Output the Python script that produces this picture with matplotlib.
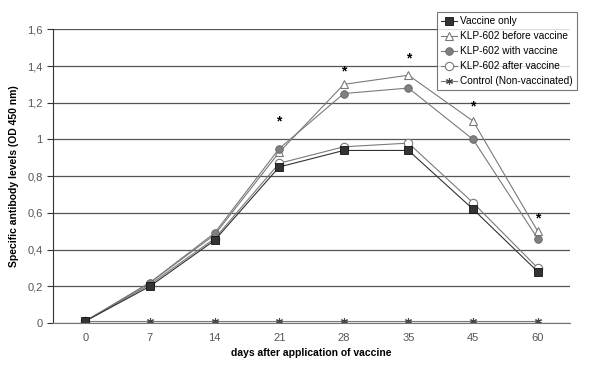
import numpy as np
import matplotlib
matplotlib.use('Agg')
import matplotlib.pyplot as plt
from matplotlib.ticker import FuncFormatter

plt.rcParams['font.family'] = ['Liberation Sans', 'DejaVu Sans']

# data
days = ['0', '7', '14', '21', '28', '35', '45', '60']
vaccine_only = [0.01, 0.20, 0.45, 0.85, 0.94, 0.94, 0.62, 0.28]
klp_before = [0.01, 0.22, 0.48, 0.93, 1.30, 1.35, 1.10, 0.50]
klp_with = [0.01, 0.22, 0.49, 0.95, 1.25, 1.28, 1.00, 0.46]
klp_after = [0.01, 0.21, 0.46, 0.87, 0.96, 0.98, 0.655, 0.30]
control = [0.01, 0.01, 0.01, 0.01, 0.01, 0.01, 0.01, 0.01]
# significance stars (day index, level)
star_idx = [3, 4, 5, 6, 7]
star_y = [1.10, 1.37, 1.44, 1.18, 0.57]

x = np.arange(len(days))

fig = plt.figure(figsize=(6, 3.67), dpi=100)
ax = fig.add_axes([53/600, 1 - 323/367, (570-53)/600, (323-29.3)/367])

ax.set_ylim(0, 1.6)
ax.set_xlim(-0.5, len(days) - 0.5)
ax.set_yticks(np.arange(0, 1.61, 0.2))
ax.yaxis.set_major_formatter(FuncFormatter(lambda v, p: ('%g' % round(v, 1)).replace('.', ',')))
ax.set_xticks(x)
ax.set_xticklabels(days)
ax.grid(axis='y', color='#555555', lw=0.9)
ax.set_axisbelow(True)
for s in ['top', 'right']:
    ax.spines[s].set_visible(False)
ax.spines['left'].set_color('#333333')
ax.spines['bottom'].set_color('#777777')
ax.tick_params(axis='x', length=0, pad=7, labelsize=8, labelcolor='#555555')
ax.tick_params(axis='y', length=4, color='#333333', labelsize=8, labelcolor='#555555')

gray = '#7a7a7a'
ax.plot(x, control, color=gray, lw=0.8, marker=(6, 2, 0), ms=5, mec='#444444', mew=0.8,
        label='Control (Non-vaccinated)')
ax.plot(x, klp_after, color=gray, lw=0.8, marker='o', ms=6, mfc='white', mec=gray, mew=0.8,
        label='KLP-602 after vaccine')
ax.plot(x, klp_before, color=gray, lw=0.8, marker='^', ms=6, mfc='white', mec=gray, mew=0.8,
        label='KLP-602 before vaccine')
ax.plot(x, klp_with, color=gray, lw=0.8, marker='o', ms=5.5, mfc='#7f7f7f', mec='#666666', mew=0.6,
        label='KLP-602 with vaccine')
ax.plot(x, vaccine_only, color='#333333', lw=0.8, marker='s', ms=6, mfc='#333333', mec='#111111', mew=0.6,
        label='Vaccine only')

for i, yv in zip(star_idx, star_y):
    ax.text(x[i], yv, '*', ha='center', va='center', fontsize=10, fontweight='bold')

handles, labels = ax.get_legend_handles_labels()
order = ['Vaccine only', 'KLP-602 before vaccine', 'KLP-602 with vaccine',
         'KLP-602 after vaccine', 'Control (Non-vaccinated)']
hmap = dict(zip(labels, handles))
leg = fig.legend([hmap[l] for l in order], order, loc='upper left',
                 bbox_to_anchor=(437/600, 1 - 12/367), fontsize=7.3, frameon=True,
                 fancybox=False, edgecolor='#555555', handlelength=1.6, handletextpad=0.3,
                 labelspacing=0.5, borderpad=0.4, borderaxespad=0)
leg.get_frame().set_linewidth(0.8)

ax.set_ylabel('Specific antibody levels (OD 450 nm)', fontsize=7.5, fontweight='bold', labelpad=6)
ax.set_xlabel('days after application of vaccine', fontsize=7.5, fontweight='bold', labelpad=4)

fig.savefig('out.png', dpi=100)
